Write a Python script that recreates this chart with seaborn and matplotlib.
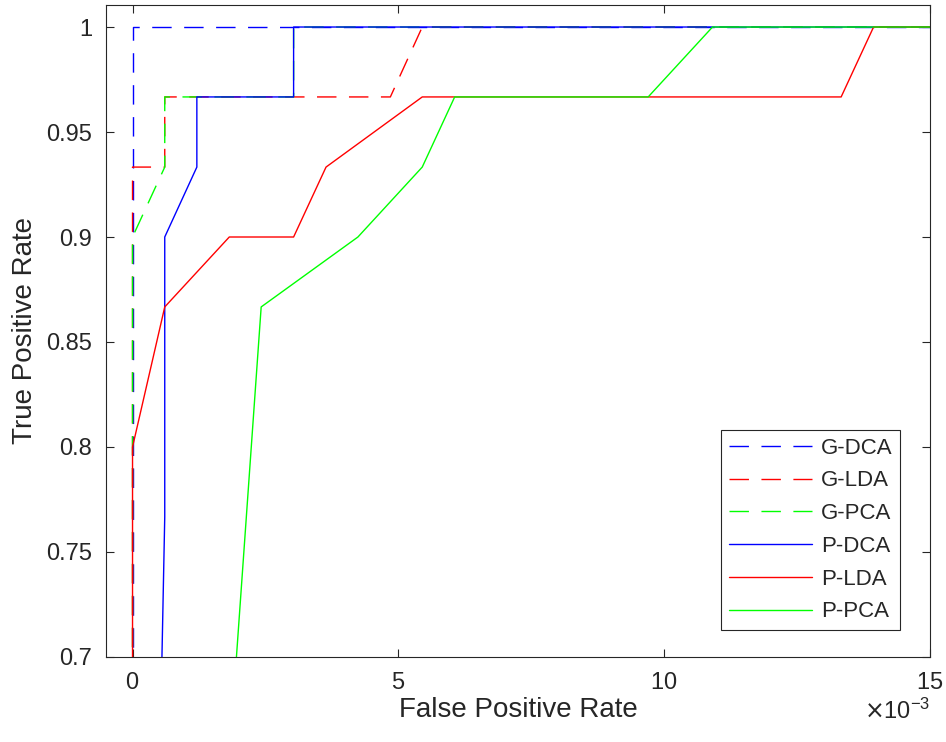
import pandas as pd
import matplotlib
matplotlib.use("Agg")
import matplotlib.pyplot as plt
import matplotlib.ticker as mticker
import seaborn as sns

# ROC curves (FPR, TPR)
gdca_fpr = [0, 0, 1]
gdca_tpr = [0, 1, 1]
glda_fpr = [0, 0, 0.000606, 0.000606, 0.00485, 0.00545, 1]
glda_tpr = [0, 0.9333, 0.9333, 0.9667, 0.9667, 1, 1]
gpca_fpr = [0, 0, 0.000606, 0.000606, 0.00303, 0.00303, 1]
gpca_tpr = [0, 0.9, 0.9333, 0.9667, 0.9667, 1, 1]
pdca_fpr = [0, 0.000606, 0.000606, 0.00121, 0.00121, 0.00303, 0.00303, 1]
pdca_tpr = [0, 0.7667, 0.9, 0.9333, 0.9667, 0.9667, 1, 1]
plda_fpr = [0, 0, 0.000606, 0.00182, 0.00303, 0.00364, 0.00545, 0.01333, 0.01394, 1]
plda_tpr = [0, 0.8, 0.8667, 0.9, 0.9, 0.9333, 0.9667, 0.9667, 1, 1]
ppca_fpr = [0, 0.00242, 0.00424, 0.00545, 0.00606, 0.0097, 0.01091, 1]
ppca_tpr = [0, 0.8667, 0.9, 0.9333, 0.9667, 0.9667, 1, 1]

curves = [
    ("G-DCA", gdca_fpr, gdca_tpr, "#0000ff", "--"),
    ("G-LDA", glda_fpr, glda_tpr, "#ff0000", "--"),
    ("G-PCA", gpca_fpr, gpca_tpr, "#00ff00", "--"),
    ("P-DCA", pdca_fpr, pdca_tpr, "#0000ff", "-"),
    ("P-LDA", plda_fpr, plda_tpr, "#ff0000", "-"),
    ("P-PCA", ppca_fpr, ppca_tpr, "#00ff00", "-"),
]

sns.set_theme(style="white")
plt.rcParams["font.family"] = ["Liberation Sans", "DejaVu Sans"]
plt.rcParams["axes.unicode_minus"] = False
plt.rcParams["axes.edgecolor"] = "#262626"
plt.rcParams["axes.linewidth"] = 0.8

fig = plt.figure(figsize=(9.46, 7.42), dpi=100)
ax = fig.add_axes([0.112, 0.1146, 0.871, 0.8787])

for name, fpr, tpr, color, ls in curves:
    df = pd.DataFrame({"fpr": fpr, "tpr": tpr})
    style = (0, (14, 9)) if ls == "--" else "-"
    sns.lineplot(data=df, x="fpr", y="tpr", sort=False, estimator=None,
                 color=color, linestyle=style, linewidth=1.0, label=name, ax=ax)

ax.set_xlim(-0.0005, 0.015)
ax.set_ylim(0.7, 1.0105)
ax.set_xticks([0, 0.005, 0.01, 0.015])
ax.set_yticks([0.7, 0.75, 0.8, 0.85, 0.9, 0.95, 1.0])
ax.set_yticklabels(["0.7", "0.75", "0.8", "0.85", "0.9", "0.95", "1"])
fmt = mticker.ScalarFormatter(useMathText=True)
fmt.set_powerlimits((-3, -3))
ax.xaxis.set_major_formatter(fmt)
ax.xaxis.get_offset_text().set_fontsize(17)
ax.xaxis.get_offset_text().set_color("#262626")

ax.tick_params(direction="in", length=6, width=0.8, labelsize=17,
               top=True, right=True, bottom=True, left=True, colors="#262626")
ax.tick_params(axis="x", pad=11)
ax.tick_params(axis="y", pad=10)
ax.set_xlabel("False Positive Rate", fontsize=20, color="#262626", labelpad=2)
ax.set_ylabel("True Positive Rate", fontsize=20, color="#262626", labelpad=6)

leg = ax.legend(loc="lower right", bbox_to_anchor=(0.964, 0.041), borderaxespad=0,
                fontsize=16, handlelength=3.75, labelspacing=0.53, fancybox=False,
                framealpha=1, edgecolor="#262626", borderpad=0.35, handletextpad=0.4)
leg.get_frame().set_linewidth(0.8)

fig.savefig("out.png", dpi=100)
